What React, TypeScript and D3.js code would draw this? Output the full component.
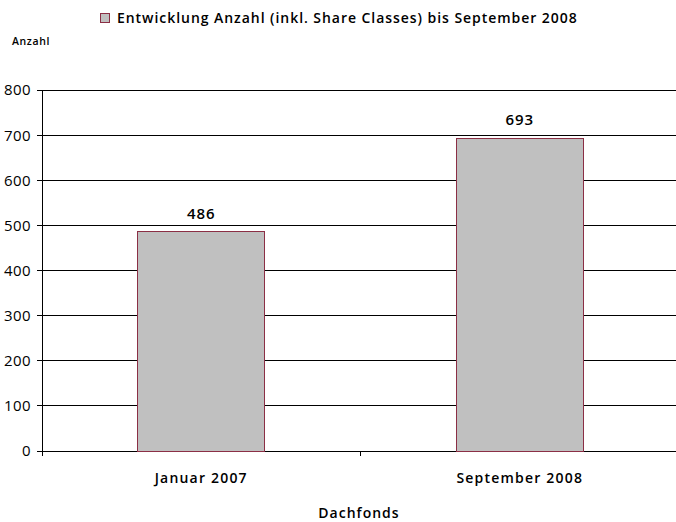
import React from "react";
import * as d3 from "d3";

const categories = ["Januar 2007", "September 2008"];
const values = [486, 693];
const yTicks = [0, 100, 200, 300, 400, 500, 600, 700, 800];
const legendLabel = "Entwicklung Anzahl (inkl. Share Classes) bis September 2008";
const yTitle = "Anzahl";
const xTitle = "Dachfonds";

export default function App() {
  const W = 676, H = 522;
  const left = 42, right = 679, top = 90, bottom = 451;
  const font = "'Open Sans', sans-serif";
  const x = d3.scaleBand<string>().domain(categories).range([left, right]).paddingInner(0).paddingOuter(0);
  const y = d3.scaleLinear().domain([0, 800]).range([bottom, top]);
  const bw = x.bandwidth() * 0.4;
  return (
    <svg width={W} height={H} style={{ position: "absolute", left: 0, top: 0 }}>
      <rect x={0} y={0} width={W} height={H} fill="#fff" />
      {yTicks.map((t) => (
        <g key={t}>
          <line x1={left} x2={right} y1={y(t)} y2={y(t)} stroke="#000" strokeWidth={1} shapeRendering="crispEdges" />
          <line x1={left - 5} x2={left} y1={y(t)} y2={y(t)} stroke="#000" shapeRendering="crispEdges" />
          <text x={left - 11} y={y(t)} dy="0.36em" textAnchor="end" fontSize={15} fontFamily={font} fill="#000" letterSpacing={0.4}>{t}</text>
        </g>
      ))}
      <line x1={left} x2={left} y1={top} y2={bottom} stroke="#000" shapeRendering="crispEdges" />
      {[left, left + x.bandwidth(), right].map((tx, i) => (
        <line key={i} x1={tx} x2={tx} y1={bottom} y2={bottom + 5} stroke="#000" shapeRendering="crispEdges" />
      ))}
      {categories.map((c, i) => {
        const cx = (x(c) as number) + x.bandwidth() / 2;
        return (
          <g key={c}>
            <rect x={cx - bw / 2} y={y(values[i])} width={bw} height={bottom - y(values[i])} fill="#c0c0c0" stroke="#8b2f45" strokeWidth={1} shapeRendering="crispEdges" />
            <text x={cx} y={y(values[i]) - 13} textAnchor="middle" fontSize={15} fontWeight={600} fontFamily={font} fill="#000" letterSpacing={1}>{values[i]}</text>
            <text x={cx} y={bottom + 32} textAnchor="middle" fontSize={14} fontWeight={600} fontFamily={font} fill="#000" letterSpacing={1.2}>{c}</text>
          </g>
        );
      })}
      <rect x={100.5} y={13.5} width={9} height={9} fill="#c0c0c0" stroke="#8b2f45" />
      <text x={117} y={23} fontSize={14} fontWeight={600} fontFamily={font} fill="#000" letterSpacing={0.95}>{legendLabel}</text>
      <text x={12} y={45} fontSize={10.5} fontWeight={600} fontFamily={font} fill="#000" letterSpacing={0.6}>{yTitle}</text>
      <text x={(left + 676) / 2} y={518} textAnchor="middle" fontSize={14} fontWeight={600} fontFamily={font} fill="#000" letterSpacing={1}>{xTitle}</text>
    </svg>
  );
}
